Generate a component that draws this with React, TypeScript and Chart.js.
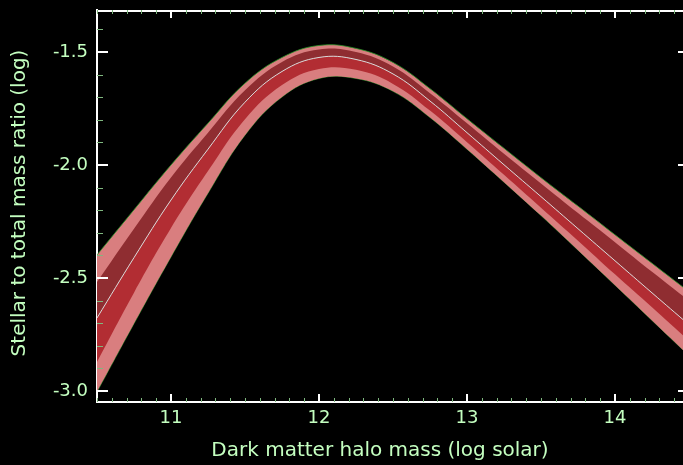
import React, { useEffect, useRef } from "react";
import { Chart, registerables } from "chart.js";

Chart.register(...registerables);

// Halo mass grid (log solar)
const haloMass = [10.5, 10.75, 11, 11.25, 11.5, 11.75, 12, 12.25, 12.5, 12.75, 13, 13.25, 13.5, 13.75, 14, 14.25, 14.5];
// Median stellar-to-halo mass ratio (log)
const median = [-2.677, -2.41, -2.155, -1.93, -1.722, -1.586, -1.524, -1.533, -1.597, -1.717, -1.857, -1.999, -2.14, -2.282, -2.424, -2.566, -2.707];
// Outer (wide) uncertainty band
const outerUpper = [-2.398, -2.198, -2.0, -1.815, -1.638, -1.524, -1.471, -1.484, -1.546, -1.662, -1.795, -1.926, -2.056, -2.182, -2.309, -2.435, -2.561];
const outerLower = [-3.004, -2.702, -2.407, -2.125, -1.868, -1.699, -1.617, -1.617, -1.674, -1.79, -1.93, -2.076, -2.224, -2.377, -2.532, -2.688, -2.844];
// Inner (narrow) uncertainty band
const innerUpper = [-2.518, -2.282, -2.055, -1.857, -1.669, -1.544, -1.489, -1.5, -1.564, -1.682, -1.815, -1.95, -2.082, -2.213, -2.342, -2.473, -2.601];
const innerLower = [-2.872, -2.565, -2.279, -2.027, -1.797, -1.646, -1.575, -1.579, -1.641, -1.759, -1.899, -2.043, -2.189, -2.335, -2.484, -2.63, -2.778];

const xTickLabels = [11, 12, 13, 14];
const yTickLabels = [-3.0, -2.5, -2.0, -1.5];
const xTitle = "Dark matter halo mass (log solar)";
const yTitle = "Stellar to total mass ratio (log)";

const X_MIN = 10.5;
const X_MAX = 14.5;
const Y_MIN = -3.049;
const Y_MAX = -1.314;

const TEXT = "#c4ffc0";
const MINOR = "#7fb87f";
const FONT = "DejaVu Sans";
const TENSION = 0.4;

const toPts = (ys: number[]) => haloMass.map((x, i) => ({ x, y: ys[i] }));

const framePlugin = {
  id: "frame",
  afterDatasetsDraw(chart: any) {
    const { ctx, chartArea: a, scales } = chart;
    const x = scales.x;
    const y = scales.y;
    ctx.save();
    ctx.strokeStyle = "#ffffff";
    ctx.lineWidth = 2;
    ctx.beginPath();
    ctx.moveTo(a.left, a.top + 1);
    ctx.lineTo(a.right - 1, a.top + 1);
    ctx.lineTo(a.right - 1, a.bottom);
    ctx.stroke();

    // minor ticks
    ctx.strokeStyle = MINOR;
    ctx.lineWidth = 1;
    ctx.beginPath();
    for (let i = Math.ceil(x.min * 10); i <= Math.floor(x.max * 10); i++) {
      if (i % 10 === 0) continue;
      const px = Math.round(x.getPixelForValue(i / 10)) + 0.5;
      ctx.moveTo(px, a.bottom);
      ctx.lineTo(px, a.bottom - 4);
      ctx.moveTo(px, a.top);
      ctx.lineTo(px, a.top + 4);
    }
    for (let i = Math.ceil(y.min * 10); i <= Math.floor(y.max * 10); i++) {
      if (i % 5 === 0) continue;
      const py = Math.round(y.getPixelForValue(i / 10)) + 0.5;
      ctx.moveTo(a.left, py);
      ctx.lineTo(a.left + 6, py);
      ctx.moveTo(a.right, py);
      ctx.lineTo(a.right - 6, py);
    }
    ctx.stroke();

    // major ticks
    ctx.strokeStyle = "#ffffff";
    ctx.lineWidth = 2;
    ctx.beginPath();
    x.ticks.forEach((t: any) => {
      const px = Math.round(x.getPixelForValue(t.value));
      ctx.moveTo(px, a.bottom);
      ctx.lineTo(px, a.bottom - 8);
      ctx.moveTo(px, a.top);
      ctx.lineTo(px, a.top + 8);
    });
    y.ticks.forEach((t: any) => {
      const py = Math.round(y.getPixelForValue(t.value));
      ctx.moveTo(a.left, py);
      ctx.lineTo(a.left + 11, py);
      ctx.moveTo(a.right, py);
      ctx.lineTo(a.right - 11, py);
    });
    ctx.stroke();

    // axis titles
    ctx.fillStyle = TEXT;
    ctx.font = `20px "${FONT}"`;
    ctx.textAlign = "center";
    ctx.textBaseline = "middle";
    ctx.fillText(xTitle, 380, 451);
    ctx.translate(20, 203);
    ctx.rotate(-Math.PI / 2);
    ctx.fillText(yTitle, 0, 0);
    ctx.restore();
  },
};

export default function App() {
  const ref = useRef<HTMLCanvasElement | null>(null);

  useEffect(() => {
    document.body.style.background = "#000";
    const canvas = ref.current;
    if (!canvas) return;
    const chart = new Chart(canvas, {
      type: "line",
      data: {
        datasets: [
          {
            label: "median",
            data: toPts(median),
            borderColor: "#d9d9d9",
            borderWidth: 1,
            pointRadius: 0,
            fill: false,
            tension: TENSION,
          },
          {
            label: "inner lower",
            data: toPts(innerLower),
            borderColor: "rgba(0,0,0,0)",
            borderWidth: 0,
            pointRadius: 0,
            backgroundColor: "#b22d33",
            fill: 0,
            tension: TENSION,
          },
          {
            label: "inner upper",
            data: toPts(innerUpper),
            borderColor: "rgba(0,0,0,0)",
            borderWidth: 0,
            pointRadius: 0,
            backgroundColor: "#8f2d31",
            fill: 0,
            tension: TENSION,
          },
          {
            label: "outer upper",
            data: toPts(outerUpper),
            borderColor: "rgba(40,150,40,0.8)",
            borderWidth: 1,
            pointRadius: 0,
            backgroundColor: "#d97e7f",
            fill: 4,
            tension: TENSION,
          },
          {
            label: "outer lower",
            data: toPts(outerLower),
            borderColor: "rgba(40,150,40,0.8)",
            borderWidth: 1,
            pointRadius: 0,
            fill: false,
            tension: TENSION,
          },
        ],
      },
      options: {
        animation: false,
        responsive: false,
        events: [],
        layout: { padding: { top: 10, right: 11, bottom: 0, left: 0 } },
        plugins: { legend: { display: false }, tooltip: { enabled: false } },
        scales: {
          x: {
            type: "linear",
            min: X_MIN,
            max: X_MAX,
            grid: { display: false, drawTicks: false },
            border: { display: true, color: "#ffffff", width: 2 },
            ticks: {
              color: TEXT,
              font: { family: FONT, size: 18 },
              padding: 6,
              maxRotation: 0,
              callback: (v: any) => String(v),
            },
            afterBuildTicks: (s: any) => {
              s.ticks = xTickLabels.map((v) => ({ value: v }));
            },
            afterFit: (s: any) => {
              s.height = 63;
              s.paddingLeft = 0;
              s.paddingRight = 0;
            },
          },
          y: {
            type: "linear",
            min: Y_MIN,
            max: Y_MAX,
            grid: { display: false, drawTicks: false },
            border: { display: true, color: "#ffffff", width: 2 },
            ticks: {
              color: TEXT,
              font: { family: FONT, size: 18 },
              padding: 9,
              callback: (v: any) => Number(v).toFixed(1),
            },
            afterBuildTicks: (s: any) => {
              s.ticks = yTickLabels.map((v) => ({ value: v }));
            },
            afterFit: (s: any) => {
              s.width = 97;
              s.paddingTop = 0;
              s.paddingBottom = 0;
            },
          },
        },
      },
      plugins: [framePlugin],
    });
    return () => chart.destroy();
  }, []);

  return (
    <div
      style={{
        position: "fixed",
        left: 0,
        top: 0,
        width: 683,
        height: 465,
        overflow: "hidden",
        background: "#000",
      }}
    >
      <canvas ref={ref} width={700} height={465} style={{ width: 700, height: 465, display: "block" }} />
    </div>
  );
}
